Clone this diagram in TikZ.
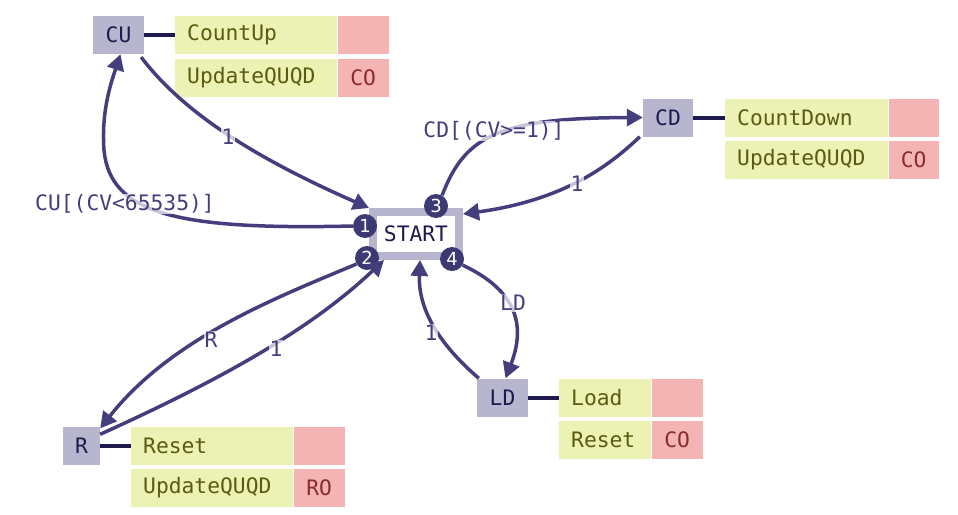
\documentclass[tikz,border=0pt]{standalone}
\usepackage{fontspec}
\setmonofont{DejaVu Sans Mono}
\newfontfamily\numfont{DejaVu Sans}
\usetikzlibrary{arrows.meta}
\definecolor{boxc}{HTML}{B8B6CF}
\definecolor{navy}{HTML}{1E1A4C}
\definecolor{edgec}{HTML}{443F7C}
\definecolor{yel}{HTML}{ECF2B4}
\definecolor{pnk}{HTML}{F4B4B4}
\definecolor{olive}{HTML}{5C5A10}
\definecolor{dred}{HTML}{8A2C2C}
\definecolor{circc}{HTML}{3D3972}
\begin{document}
\begin{tikzpicture}[x=1pt,y=-1pt,
  every node/.style={font=\ttfamily\fontsize{21.3}{25}\selectfont},
  statebox/.style={fill=boxc, text=navy, inner sep=0pt, minimum height=38pt, minimum width=51pt},
  ycell/.style={fill=yel, text=olive, inner xsep=12pt, inner ysep=0pt, minimum height=38pt, align=left, anchor=west},
  pcell/.style={fill=pnk, text=dred, inner sep=0pt, minimum width=51pt, minimum height=38pt, anchor=west},
  link/.style={draw=navy, line width=4pt},
  tr/.style={draw=edgec, line width=3.5pt, -{Triangle[length=16pt,width=17pt]}},
  elabel/.style={fill=white, fill opacity=0.7, text opacity=1, text=edgec, inner sep=1pt},
  num/.style={circle, fill=circc, text=white, inner sep=0pt, minimum size=24pt, font=\numfont\fontsize{18}{18}\selectfont}
]
\useasboundingbox (0,0) rectangle (958,514);

% CU
\node[statebox] (CU) at (118.5,35) {CU};
\node[ycell, text width=138pt] (CUa) at (175,35) {CountUp};
\node[pcell] (CUap) at (CUa.east) {};
\node[ycell, text width=138pt] (CUb) at (175,77.5) {UpdateQUQD};
\node[pcell] (CUbp) at (CUb.east) {CO};
\draw[link] (CU.east) -- (CUa.west);

% CD
\node[statebox, minimum width=50pt] (CD) at (668,117.5) {CD};
\node[ycell, text width=139pt] (CDa) at (725,117.5) {CountDown};
\node[pcell, minimum width=50pt] (CDap) at (CDa.east) {};
\node[ycell, text width=139pt] (CDb) at (725,160) {UpdateQUQD};
\node[pcell, minimum width=50pt] (CDbp) at (CDb.east) {CO};
\draw[link] (CD.east) -- (CDa.west);

% LD
\node[statebox] (LD) at (502.5,397.5) {LD};
\node[ycell, text width=68pt] (LDa) at (559,397.5) {Load};
\node[pcell] (LDap) at (LDa.east) {};
\node[ycell, text width=68pt] (LDb) at (559,439.5) {Reset};
\node[pcell] (LDbp) at (LDb.east) {CO};
\draw[link] (LD.east) -- (LDa.west);

% R
\node[statebox, minimum width=37pt] (R) at (81.5,445.5) {R};
\node[ycell, text width=138pt] (Ra) at (131,445.5) {Reset};
\node[pcell] (Rap) at (Ra.east) {};
\node[ycell, text width=138pt] (Rb) at (131,487.5) {UpdateQUQD};
\node[pcell] (Rbp) at (Rb.east) {RO};
\draw[link] (R.east) -- (Ra.west);

% START
\node[draw=boxc, line width=8pt, fill=white, minimum width=86pt, minimum height=44pt,
      inner sep=0pt, outer sep=4pt, text=navy] (S) at (416,234) {START};
\node[num] (c1) at (365,226) {1};
\node[num] (c2) at (367,258) {2};
\node[num] (c3) at (436,206) {3};
\node[num] (c4) at (452,259) {4};

% transitions
\draw[tr] ([xshift=-3pt,yshift=-3pt]CU.south east) .. controls (185,115) and (260,160) .. (S.north west)
  node[elabel, at={(228,137)}] {1};
\draw[tr] (c1.west) .. controls (180,230) and (110,215) .. (104,150) .. controls (101,110) and (112,80) .. ([xshift=2pt]CU.south)
  node[elabel, at={(125,204)}] {CU[(CV<65535)]};
\draw[tr] (c3.60) .. controls (465,135) and (500,118) .. (CD.west)
  node[elabel, at={(494,131)}] {CD[(CV>=1)]};
\draw[tr] ([xshift=-3pt]CD.south west) .. controls (610,165) and (565,200) .. ([yshift=-6pt]S.north east)
  node[elabel, at={(577,184)}] {1};
\draw[tr] (c4.-30) .. controls (505,285) and (530,315) .. ([xshift=3pt]LD.north)
  node[elabel, at={(513,303)}] {LD};
\draw[tr] ([xshift=2pt]LD.north west) .. controls (440,345) and (418,310) .. ([xshift=4pt]S.south)
  node[elabel, at={(431,333)}] {1};
\draw[tr] (c2.-150) .. controls (270,300) and (170,340) .. ([yshift=-2pt]R.north east)
  node[elabel, at={(211,340)}] {R};
\draw[tr] ([yshift=-8pt]R.north east) .. controls (220,380) and (310,330) .. ([xshift=15pt]S.south west)
  node[elabel, at={(276,349)}] {1};
\end{tikzpicture}
\end{document}
